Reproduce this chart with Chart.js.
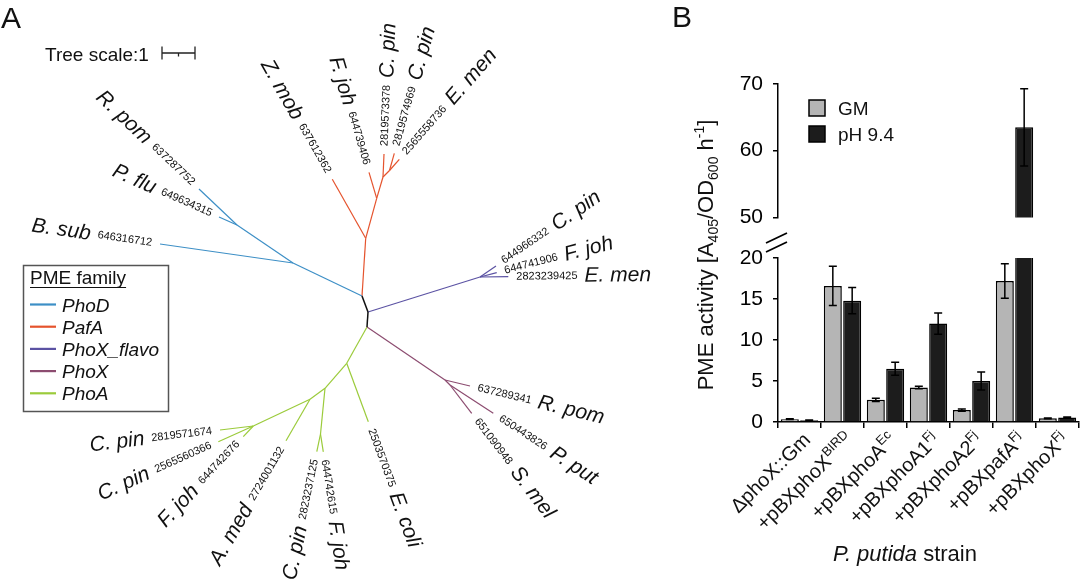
<!DOCTYPE html>
<html>
<head>
<meta charset="utf-8">
<script src="https://cdn.jsdelivr.net/npm/chart.js@4.4.1/dist/chart.umd.min.js"></script>
<style>
    html, body { margin: 0; padding: 0; background: #fff; }
    #wrap { position: relative; width: 1080px; height: 583px; overflow: hidden; }
    canvas { position: absolute; top: 0; }
    #tree { left: 0; }
    #lower, #upper { left: 660px; }
</style>
</head>
<body>
<div id="wrap">
    <canvas id="tree" width="660" height="583"></canvas>
    <canvas id="lower" width="420" height="583"></canvas>
    <canvas id="upper" width="420" height="240"></canvas>
</div>
<script>
// ---------- panel B data ----------
const strains = [
    `ΔphoX::Gm`,
    `+pBXphoX^{BIRD}`,
    `+pBXphoA^{Ec}`,
    `+pBXphoA1^{Fj}`,
    `+pBXphoA2^{Fj}`,
    `+pBXpafA^{Fj}`,
    `+pBXphoX^{Fj}`,
];
const seriesNames = [`GM`, `pH 9.4`];
const gmMeans = [0.35, 16.6, 2.7, 4.2, 1.45, 17.2, 0.45];
const gmErrors = [0.05, 2.4, 0.2, 0.15, 0.15, 2.1, 0.05];
const phMeans = [0.2, 14.8, 6.5, 12.0, 5.0, 63.5, 0.55];
const phErrors = [0.05, 1.6, 0.8, 1.3, 1.1, 5.8, 0.05];
const lowerTicks = [0, 5, 10, 15, 20];
const upperTicks = [50, 60, 70];

// ---------- panel A data (unrooted tree, layout units) ----------
const familyNames = [`PhoD`, `PafA`, `PhoX_flavo`, `PhoX`, `PhoA`];
const treeNodes = {
    r1: [362, 296], r2: [368, 312], r3: [367, 327],
    d1: [293, 263], d2: [237, 225],
    dRpom: [199, 189], dPflu: [219, 217], dBsub: [160, 244],
    a1: [365.7, 238.3], a2: [376.7, 198.3], a3: [383, 177], a4: [389.5, 170.5],
    aZmob: [332.3, 179.3], aFjoh: [369, 172.3], aCpin1: [384, 154], aCpin2: [394.3, 153.3], aEmen: [399.3, 159.3],
    f1: [480, 277], fCpin: [496, 266], fFjoh: [496.7, 272.7], fEmen: [508.3, 276.7],
    x1: [445, 380], x2: [450, 385], xRpom: [470, 386], xPput: [493.3, 413.3], xSmel: [471.7, 413.3],
    g1: [346.7, 363.3], g2: [325, 388.3], g2b: [320.5, 434], g3: [310, 399.3], g4: [253.3, 426],
    gEcoli: [368.3, 421.7], gCpinB: [316.8, 451.6], gFjohB: [323.3, 451.8], gAmed: [286, 440.7],
    gFjohA: [243.3, 436.7], gCpin1: [220, 430], gCpin2: [218.3, 441.7],
};
// [parent, child, family index (-1 = backbone)]
const treeEdges = [
    [`r1`, `r2`, -1], [`r2`, `r3`, -1],
    [`r1`, `d1`, 0], [`d1`, `dBsub`, 0], [`d1`, `d2`, 0], [`d2`, `dRpom`, 0], [`d2`, `dPflu`, 0],
    [`r1`, `a1`, 1], [`a1`, `aZmob`, 1], [`a1`, `a2`, 1], [`a2`, `aFjoh`, 1], [`a2`, `a3`, 1],
    [`a3`, `aCpin1`, 1], [`a3`, `a4`, 1], [`a4`, `aCpin2`, 1], [`a4`, `aEmen`, 1],
    [`r2`, `f1`, 2], [`f1`, `fCpin`, 2], [`f1`, `fFjoh`, 2], [`f1`, `fEmen`, 2],
    [`r3`, `x1`, 3], [`x1`, `xRpom`, 3], [`x1`, `x2`, 3], [`x2`, `xPput`, 3], [`x2`, `xSmel`, 3],
    [`r3`, `g1`, 4], [`g1`, `gEcoli`, 4], [`g1`, `g2`, 4], [`g2`, `g2b`, 4], [`g2b`, `gCpinB`, 4],
    [`g2b`, `gFjohB`, 4], [`g2`, `g3`, 4], [`g3`, `gAmed`, 4], [`g3`, `g4`, 4],
    [`g4`, `gFjohA`, 4], [`g4`, `gCpin1`, 4], [`g4`, `gCpin2`, 4],
];
const tipNodes = [`dRpom`, `dPflu`, `dBsub`, `aZmob`, `aFjoh`, `aCpin1`, `aCpin2`, `aEmen`,
    `fCpin`, `fFjoh`, `fEmen`, `xRpom`, `xPput`, `xSmel`, `gEcoli`, `gCpinB`, `gFjohB`,
    `gAmed`, `gFjohA`, `gCpin1`, `gCpin2`];
const tipIds = [`637287752`, `649634315`, `646316712`, `637612362`, `644739406`, `2819573378`,
    `2819574969`, `2565558736`, `644966332`, `644741906`, `2823239425`, `637289341`, `650443826`,
    `651090948`, `2503570375`, `2823237125`, `644742615`, `2724001132`, `644742676`, `2819571674`,
    `2565560366`];
const tipSpecies = [`R. pom`, `P. flu`, `B. sub`, `Z. mob`, `F. joh`, `C. pin`, `C. pin`, `E. men`,
    `C. pin`, `F. joh`, `E. men`, `R. pom`, `P. put`, `S. mel`, `E. coli`, `C. pin`, `F. joh`,
    `A. med`, `F. joh`, `C. pin`, `C. pin`];
const treeScaleLength = 33; // layout units for a branch length of 1
const treeScaleStart = [162, 53];

// ---------- look ----------
const FONT = `"Liberation Sans", Arial, Helvetica, sans-serif`;
const familyColors = [`#3d8fc6`, `#e5532d`, `#5b52a3`, `#8c4c70`, `#9bcb3b`];
const backboneColor = `#111`;
const gmColor = `#b5b5b5`;
const phColor = `#1c1c1c`;

Chart.defaults.font.family = FONT;
Chart.defaults.color = `#000`;
Chart.defaults.animation = false;

// tiny markup: *italic*, ^{sup}, _{sub}
const parseRich = function (src) {
    const runs = [];
    let italic = false;
    let buf = ``;
    let i = 0;
    const push = (mode) => {
        if (buf) {
            runs.push({ t: buf, italic, mode });
        }
        buf = ``;
    };
    while (i < src.length) {
        const c = src[i];
        if (c === `*`) {
            push(`n`);
            italic = !italic;
            i += 1;
        } else if ((c === `^` || c === `_`) && src[i + 1] === `{`) {
            push(`n`);
            const end = src.indexOf(`}`, i);
            runs.push({ t: src.slice(i + 2, end), italic, mode: c === `^` ? `sup` : `sub` });
            i = end + 1;
        } else {
            buf += c;
            i += 1;
        }
    }
    push(`n`);
    return runs;
};

const plain = (src) => parseRich(src).map(r => r.t).join(``);

const drawRich = function (ctx, src, x, y, size, align) {
    const runs = parseRich(src);
    let total = 0;
    runs.forEach(r => {
        r.size = r.mode === `n` ? size : Math.round(size * 0.65);
        r.dy = r.mode === `sup` ? -size * 0.4 : (r.mode === `sub` ? size * 0.22 : 0);
        ctx.font = `${r.italic ? `italic ` : ``}${r.size}px ${FONT}`;
        r.w = ctx.measureText(r.t).width;
        total += r.w;
    });
    let cx = x;
    if (align === `right`) {
        cx = x - total;
    } else if (align === `center`) {
        cx = x - total / 2;
    }
    ctx.textAlign = `left`;
    ctx.textBaseline = `alphabetic`;
    runs.forEach(r => {
        ctx.font = `${r.italic ? `italic ` : ``}${r.size}px ${FONT}`;
        ctx.fillText(r.t, cx, y + r.dy);
        cx += r.w;
    });
};

// ---------- panel A ----------
const parentOf = {};
treeEdges.forEach(([p, c]) => { parentOf[c] = p; });

const treeDatasets = treeEdges.map(([p, c, fam]) => ({
    data: [
        { x: treeNodes[p][0], y: treeNodes[p][1] },
        { x: treeNodes[c][0], y: treeNodes[c][1] },
    ],
    showLine: true,
    borderColor: fam < 0 ? backboneColor : familyColors[fam],
    borderWidth: fam < 0 ? 1.5 : 1.2,
    pointRadius: 0,
}));

const treeDecor = {
    id: `treeDecor`,
    afterDatasetsDraw(chart) {
        const { ctx } = chart;
        const xs = chart.scales.x;
        const ys = chart.scales.y;
        const px = (n) => [xs.getPixelForValue(treeNodes[n][0]), ys.getPixelForValue(treeNodes[n][1])];
        ctx.save();
        ctx.fillStyle = `#111`;
        // tip labels
        tipNodes.forEach((node, i) => {
            const [tx, ty] = px(node);
            const [ax, ay] = px(parentOf[node]);
            const ang = Math.atan2(ty - ay, tx - ax);
            const toRight = Math.cos(ang) >= 0;
            ctx.save();
            ctx.translate(tx, ty);
            ctx.rotate(toRight ? ang : ang + Math.PI);
            ctx.textBaseline = `middle`;
            ctx.font = `11px ${FONT}`;
            const idW = ctx.measureText(tipIds[i]).width;
            const gap = 8;
            if (toRight) {
                ctx.textAlign = `left`;
                ctx.fillText(tipIds[i], gap, 0);
                ctx.font = `italic 21px ${FONT}`;
                ctx.fillText(tipSpecies[i], gap + idW + 7, 0);
            } else {
                ctx.textAlign = `right`;
                ctx.fillText(tipIds[i], -gap, 0);
                ctx.font = `italic 21px ${FONT}`;
                ctx.fillText(tipSpecies[i], -gap - idW - 7, 0);
            }
            ctx.restore();
        });

        // panel letter
        ctx.textAlign = `left`;
        ctx.textBaseline = `alphabetic`;
        ctx.font = `30px ${FONT}`;
        ctx.fillText(`A`, 1, 28);

        // tree scale
        const sx0 = xs.getPixelForValue(treeScaleStart[0]);
        const sx1 = xs.getPixelForValue(treeScaleStart[0] + treeScaleLength);
        const sy = ys.getPixelForValue(treeScaleStart[1]);
        ctx.font = `19px ${FONT}`;
        ctx.fillText(`Tree scale:1`, 45, 61);
        ctx.strokeStyle = `#222`;
        ctx.lineWidth = 1.3;
        ctx.beginPath();
        ctx.moveTo(sx0, sy); ctx.lineTo(sx1, sy);
        ctx.moveTo(sx0, sy - 6.5); ctx.lineTo(sx0, sy + 6.5);
        ctx.moveTo(sx1, sy - 6.5); ctx.lineTo(sx1, sy + 6.5);
        ctx.moveTo((sx0 + sx1) / 2, sy); ctx.lineTo((sx0 + sx1) / 2, sy + 3.5);
        ctx.stroke();

        // family legend
        ctx.strokeStyle = `#555`;
        ctx.lineWidth = 1.5;
        ctx.strokeRect(23.5, 265.5, 145, 146);
        ctx.font = `19px ${FONT}`;
        ctx.fillText(`PME family`, 30, 284);
        const uw = ctx.measureText(`PME family`).width;
        ctx.strokeStyle = `#111`;
        ctx.lineWidth = 1.2;
        ctx.beginPath();
        ctx.moveTo(30, 287.5); ctx.lineTo(30 + uw, 287.5);
        ctx.stroke();
        familyNames.forEach((name, i) => {
            const y = 304.5 + i * 22.2;
            ctx.strokeStyle = familyColors[i];
            ctx.lineWidth = 2.2;
            ctx.beginPath();
            ctx.moveTo(30, y); ctx.lineTo(56, y);
            ctx.stroke();
            ctx.font = `italic 19px ${FONT}`;
            ctx.fillText(name, 62, y + 7);
        });
        ctx.restore();
    },
};

new Chart(document.getElementById(`tree`), {
    type: `scatter`,
    data: { datasets: treeDatasets },
    options: {
        responsive: false,
        events: [],
        layout: { padding: 0 },
        plugins: { legend: { display: false }, tooltip: { enabled: false } },
        scales: {
            x: { type: `linear`, display: false, min: 0, max: 660 },
            y: { type: `linear`, display: false, min: 0, max: 583, reverse: true },
        },
    },
    plugins: [treeDecor],
});

// ---------- panel B ----------
const barDatasets = () => [
    {
        label: seriesNames[0],
        data: gmMeans,
        errors: gmErrors,
        backgroundColor: gmColor,
        borderColor: `#000`,
        borderWidth: 1.5,
        clip: 0,
    },
    {
        label: seriesNames[1],
        data: phMeans,
        errors: phErrors,
        backgroundColor: phColor,
        borderColor: `#000`,
        borderWidth: 1.5,
        clip: 0,
    },
];

const errorBars = {
    id: `errorBars`,
    afterDatasetsDraw(chart) {
        const { ctx, chartArea } = chart;
        const ys = chart.scales.y;
        ctx.save();
        ctx.beginPath();
        ctx.rect(chartArea.left, chartArea.top - 3, chartArea.right - chartArea.left, chartArea.bottom - chartArea.top + 3);
        ctx.clip();
        ctx.strokeStyle = `#000`;
        ctx.lineWidth = 1.5;
        chart.data.datasets.forEach((ds, di) => {
            chart.getDatasetMeta(di).data.forEach((bar, i) => {
                const top = ys.getPixelForValue(ds.data[i] + ds.errors[i]);
                const bottom = ys.getPixelForValue(ds.data[i] - ds.errors[i]);
                ctx.beginPath();
                ctx.moveTo(bar.x, top); ctx.lineTo(bar.x, bottom);
                ctx.moveTo(bar.x - 4, top); ctx.lineTo(bar.x + 4, top);
                ctx.moveTo(bar.x - 4, bottom); ctx.lineTo(bar.x + 4, bottom);
                ctx.stroke();
            });
        });
        ctx.restore();
    },
};

const yAxis = (ticks) => ({
    min: ticks[0],
    max: ticks[ticks.length - 1],
    afterFit(scale) { scale.width = 40; },
    ticks: { stepSize: ticks[1] - ticks[0], font: { size: 21 }, color: `#000`, padding: 10 },
    grid: { drawOnChartArea: false, tickLength: 5, color: `#000`, lineWidth: 1.5, tickWidth: 1.5 },
    border: { display: true, color: `#000`, width: 1.5 },
});

const lowerDecor = {
    id: `lowerDecor`,
    afterDraw(chart) {
        const { ctx, chartArea } = chart;
        const xs = chart.scales.x;
        ctx.save();
        ctx.fillStyle = `#111`;
        // rotated strain labels
        strains.forEach((label, i) => {
            const cx = xs.getPixelForValue(i);
            ctx.save();
            ctx.translate(cx + 12, chartArea.bottom + 19);
            ctx.rotate(-Math.PI / 4);
            drawRich(ctx, label, 0, 0, 20, `right`);
            ctx.restore();
        });
        // axis title
        drawRich(ctx, `*P. putida* strain`, 245, 561, 22, `center`);
        // y title across both segments
        ctx.save();
        ctx.translate(53, 255);
        ctx.rotate(-Math.PI / 2);
        drawRich(ctx, `PME activity [A_{405}/OD_{600} h^{-1}]`, 0, 0, 22, `center`);
        ctx.restore();
        // panel letter
        ctx.font = `30px ${FONT}`;
        ctx.textAlign = `left`;
        ctx.fillText(`B`, 12, 27);
        // axis break marks
        ctx.strokeStyle = `#000`;
        ctx.lineWidth = 1.8;
        ctx.beginPath();
        [0, 9].forEach(off => {
            ctx.moveTo(chartArea.left - 12, 243 + off);
            ctx.lineTo(chartArea.left + 9, 233 + off);
        });
        ctx.stroke();
        ctx.restore();
    },
};

new Chart(document.getElementById(`lower`), {
    type: `bar`,
    data: { labels: strains.map(plain), datasets: barDatasets() },
    options: {
        responsive: false,
        events: [],
        layout: { padding: { top: 258, left: 78, right: 1, bottom: 0 } },
        datasets: { bar: { categoryPercentage: 0.9, barPercentage: 0.93 } },
        plugins: { legend: { display: false }, tooltip: { enabled: false } },
        scales: {
            x: {
                afterFit(scale) { scale.height = 161; },
                ticks: { display: false },
                grid: { offset: true, drawOnChartArea: false, tickLength: 6, color: `#000`, lineWidth: 1.5 },
                border: { display: true, color: `#000`, width: 1.5 },
            },
            y: yAxis(lowerTicks),
        },
    },
    plugins: [errorBars, lowerDecor],
});

const upperLegend = {
    id: `upperLegend`,
    afterDraw(chart) {
        const { ctx, chartArea } = chart;
        ctx.save();
        [gmColor, phColor].forEach((color, i) => {
            const x = chartArea.left + 31;
            const y = 100 + i * 26;
            ctx.fillStyle = color;
            ctx.fillRect(x, y, 16, 16);
            ctx.strokeStyle = `#000`;
            ctx.lineWidth = 1.5;
            ctx.strokeRect(x, y, 16, 16);
            ctx.fillStyle = `#111`;
            ctx.font = `19px ${FONT}`;
            ctx.textAlign = `left`;
            ctx.textBaseline = `alphabetic`;
            ctx.fillText(seriesNames[i], x + 29, y + 15);
        });
        ctx.restore();
    },
};

new Chart(document.getElementById(`upper`), {
    type: `bar`,
    data: { labels: strains.map(plain), datasets: barDatasets() },
    options: {
        responsive: false,
        events: [],
        layout: { padding: { top: 84, left: 78, right: 1, bottom: 17 } },
        datasets: { bar: { categoryPercentage: 0.9, barPercentage: 0.93 } },
        plugins: { legend: { display: false }, tooltip: { enabled: false } },
        scales: {
            x: { display: false },
            y: yAxis(upperTicks),
        },
    },
    plugins: [errorBars, upperLegend],
});
</script>
</body>
</html>
